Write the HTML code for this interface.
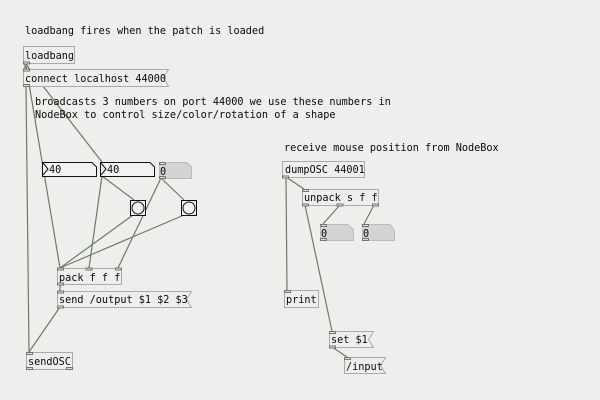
<!DOCTYPE html>
<html><head><style>
html,body{margin:0;padding:0;background:#eeefec;}
svg{display:block}
text{font-family:"DejaVu Sans Mono","Liberation Mono",monospace;font-size:10.2px;fill:#0a0a0a;}
</style></head><body>
<svg width="600" height="400" viewBox="0 0 600 400" xmlns="http://www.w3.org/2000/svg">
<rect width="600" height="400" fill="#eeefec"/>
<g stroke="#6a7a6a" stroke-width="1.2" fill="none">
<line x1="25" y1="63" x2="25" y2="69"/>
<line x1="25" y1="63" x2="102" y2="162"/>
<line x1="26" y1="66" x2="60" y2="268"/>
<line x1="26" y1="86" x2="29" y2="352"/>
<line x1="102" y1="176" x2="89" y2="268"/>
<line x1="102" y1="176" x2="134" y2="200"/>
<line x1="161" y1="178" x2="184" y2="200"/>
<line x1="161" y1="178" x2="118" y2="268"/>
<line x1="133" y1="215" x2="60" y2="268"/>
<line x1="184" y1="215" x2="60" y2="268"/>
<line x1="60" y1="284" x2="60" y2="291"/>
<line x1="60" y1="307" x2="29" y2="352"/>
<line x1="286" y1="177" x2="304" y2="189"/>
<line x1="286" y1="177" x2="287" y2="290"/>
<line x1="305" y1="205" x2="332" y2="331"/>
<line x1="340" y1="205" x2="323" y2="224"/>
<line x1="374" y1="205" x2="364" y2="224"/>
<line x1="332" y1="347" x2="347" y2="357"/>
</g>
<text x="25" y="34">loadbang fires when the patch is loaded</text>
<text x="35" y="105">broadcasts 3 numbers on port 44000 we use these numbers in</text>
<text x="35" y="118">NodeBox to control size/color/rotation of a shape</text>
<text x="284" y="151">receive mouse position from NodeBox</text>
<g fill="#eeefec" stroke="#aaa" stroke-width="1">
<rect x="23.5" y="46.5" width="51" height="17"/>
<path d="M23.5 69.5H168.5L163.5 77.5L168.5 86.5H23.5Z"/>
<rect x="57.5" y="268.5" width="64" height="16"/>
<path d="M57.5 291.5H191.5L186.5 299.5L191.5 307.5H57.5Z"/>
<rect x="26.5" y="352.5" width="46" height="17"/>
<rect x="282.5" y="161.5" width="82" height="16"/>
<rect x="302.5" y="189.5" width="76" height="16"/>
<rect x="284.5" y="290.5" width="34" height="17"/>
<path d="M329.5 331.5H373.5L368.5 339.5L373.5 347.5H329.5Z"/>
<path d="M344.5 357.5H385.5L380.5 365.5L385.5 373.5H344.5Z"/>
</g>
<g fill="#d4d4d2" stroke="#bbb">
<path d="M159.5 162.5H187L191.5 167V178.5H159.5Z"/>
<path d="M320.5 224.5H348L353.5 230V240.5H320.5Z"/>
<path d="M362.5 224.5H390L394.5 230V240.5H362.5Z"/>
</g>
<g fill="#f2f2f0" stroke="#111" stroke-width="1">
<path d="M42.5 162.5H92L96.5 167V176.5H42.5Z"/>
<path d="M100.5 162.5H150L154.5 167V176.5H100.5Z"/>
<rect x="130.5" y="200.5" width="15" height="15"/>
<rect x="181.5" y="200.5" width="15" height="15"/>
</g>
<g fill="none" stroke="#111">
<path d="M43 163L48 169L43 175"/>
<path d="M101 163L106 169L101 175"/>
<circle cx="138" cy="208" r="6"/>
<circle cx="189" cy="208" r="6"/>
</g>
<text x="25" y="59">loadbang</text>
<text x="25" y="82">connect localhost 44000</text>
<text x="49" y="173">40</text>
<text x="107" y="173">40</text>
<text x="160" y="175">0</text>
<text x="59" y="281">pack f f f</text>
<text x="59" y="303">send /output $1 $2 $3</text>
<text x="28" y="365">sendOSC</text>
<text x="285" y="173">dumpOSC 44001</text>
<text x="304" y="201">unpack s f f</text>
<text x="321" y="237">0</text>
<text x="363" y="237">0</text>
<text x="286" y="303">print</text>
<text x="331" y="343">set $1</text>
<text x="346" y="370">/input</text>
<g fill="#dde" stroke="#6a7a6a" stroke-width="1">
<rect x="23.5" y="62" width="6" height="2"/><rect x="23.5" y="69" width="6" height="2"/><rect x="23.5" y="84.5" width="6" height="2"/>
<rect x="159.5" y="162.5" width="6" height="2"/><rect x="159.5" y="176.5" width="6" height="2"/>
<rect x="57.5" y="268" width="6" height="2"/><rect x="86" y="268" width="6" height="2"/><rect x="115.5" y="268" width="6" height="2"/><rect x="57.5" y="283" width="6" height="2"/>
<rect x="57.5" y="291" width="6" height="2"/><rect x="57.5" y="306" width="6" height="2"/>
<rect x="26.5" y="352.5" width="6" height="2"/><rect x="26.5" y="367.5" width="6" height="2"/><rect x="66.5" y="367.5" width="6" height="2"/>
<rect x="282.5" y="176" width="6" height="2"/>
<rect x="302.5" y="189.5" width="6" height="2"/><rect x="302.5" y="204" width="6" height="2"/><rect x="337" y="204" width="6" height="2"/><rect x="372.5" y="204" width="6" height="2"/>
<rect x="320.5" y="224.5" width="6" height="2"/><rect x="320.5" y="238.5" width="6" height="2"/>
<rect x="362.5" y="224.5" width="6" height="2"/><rect x="362.5" y="238.5" width="6" height="2"/>
<rect x="284.5" y="290.5" width="6" height="2"/>
<rect x="329.5" y="331.5" width="6" height="2"/><rect x="329.5" y="346" width="6" height="2"/>
<rect x="344.5" y="357.5" width="6" height="2"/>
</g>
</svg>
</body></html>
